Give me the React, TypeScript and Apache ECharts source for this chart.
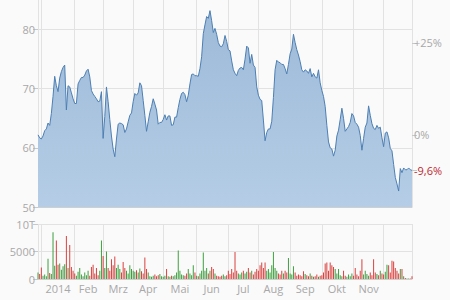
import React, { useEffect, useRef } from "react";
import * as echarts from "echarts";

// month labels (index 0 = late Dec 2013, last = Dec 2014, both unlabeled)
const monthLabels = ["", "2014", "Feb", "Mrz", "Apr", "Mai", "Jun", "Jul", "Aug", "Sep", "Okt", "Nov", ""];

// closing prices per month
const priceDec13 = [62.2, 61.7];
const priceJan = [61.5, 62.0, 62.9, 63.2, 64.2, 63.8, 65.8, 68.7, 72.1, 70.5, 69.5, 71.8, 72.9, 73.6, 74.0, 66.4, 70.5, 70.3, 69.3, 68.3];
const priceFeb = [67.5, 67.5, 70.8, 71.4, 71.9, 71.9, 72.3, 73.0, 73.3, 72.0, 69.7, 69.1, 68.7, 68.3, 67.8, 67.9, 69.5];
const priceMar = [61.6, 65.3, 70.3, 67.8, 64.8, 62.0, 59.8, 58.5, 61.5, 64.0, 64.2, 64.1, 63.9, 62.6, 63.2, 64.4, 65.5, 65.9];
const priceApr = [67.8, 69.2, 68.9, 69.3, 71.0, 70.5, 68.0, 65.5, 62.8, 64.4, 66.0, 67.0, 68.3, 67.4, 66.4, 64.0, 64.3, 64.3];
const priceMay = [64.8, 65.6, 64.7, 65.4, 65.4, 63.8, 63.9, 65.2, 65.2, 66.8, 68.2, 69.2, 69.4, 69.0, 67.8, 68.9, 70.8, 72.4, 72.5, 72.2];
const priceJun = [72.2, 72.1, 73.4, 75.4, 79.3, 80.8, 82.2, 81.9, 83.2, 81.5, 79.5, 80.2, 79.2, 77.8, 77.2, 77.1, 77.6, 79.0, 78.0];
const priceJul = [76.6, 76.4, 74.7, 73.2, 72.6, 72.2, 73.1, 73.5, 73.6, 73.2, 75.0, 77.2, 76.9, 74.3, 75.8, 74.0, 73.6, 70.3];
const priceAug = [68.9, 68.2, 68.0, 64.7, 61.2, 62.6, 63.2, 63.2, 64.5, 68.5, 73.2, 74.8, 74.5, 74.4, 74.1, 74.1, 73.4, 72.5, 74.1];
const priceSep = [75.9, 76.7, 79.2, 77.8, 76.6, 75.7, 74.6, 73.2, 72.8, 73.2, 73.0, 72.6, 73.4, 72.0, 72.6, 72.0, 71.8, 73.2, 71.0];
const priceOct = [69.7, 68.7, 67.0, 63.8, 61.0, 60.0, 59.8, 58.6, 59.6, 62.0, 63.0, 64.8, 66.7, 65.0, 62.8, 63.2, 63.6, 64.3, 65.8];
const priceNov = [65.4, 64.3, 64.0, 63.5, 62.1, 59.6, 61.6, 63.5, 64.2, 67.1, 65.5, 64.1, 63.3, 63.1, 63.8, 63.3, 63.5, 61.7];
const priceDec = [60.2, 62.5, 62.7, 61.7, 59.9, 59.5, 57.2, 55.0, 53.9, 52.7, 56.5, 55.8, 56.6, 56.3, 56.3, 56.6, 56.3, 56.2];

// traded volume per month
const volDec13 = [1200, 900];
const volJan = [2100, 600, 800, 500, 3700, 1100, 900, 8500, 2400, 7000, 2600, 2800, 1700, 2300, 2700, 7800, 2000, 6200, 2200, 1500];
const volFeb = [1000, 600, 1300, 2000, 800, 500, 1200, 700, 1500, 600, 2200, 2600, 1000, 2000, 700, 1500, 7000];
const volMar = [4200, 2000, 5000, 2000, 1500, 3600, 2500, 4100, 2000, 2600, 1800, 1200, 3100, 2000, 1500, 1000, 2500, 1800];
const volApr = [1500, 1300, 1600, 1200, 1900, 1400, 1000, 3900, 1800, 1200, 500, 400, 600, 800, 500, 700, 900, 500];
const volMay = [400, 600, 1800, 500, 400, 600, 500, 700, 1200, 5200, 1500, 800, 700, 600, 1000, 1800, 1000, 700, 2500, 1200];
const volJun = [600, 500, 1000, 1500, 4800, 1500, 2000, 1000, 1500, 2200, 1800, 1000, 600, 500, 400, 600, 800, 500, 700];
const volJul = [1500, 900, 1800, 1200, 4900, 1500, 1000, 800, 1200, 1500, 1000, 1300, 2000, 1200, 1500, 800, 1300, 1800];
const volAug = [1500, 2500, 3000, 2000, 3000, 1500, 1800, 1200, 2500, 4900, 2000, 1500, 1000, 800, 1500, 1000, 1500, 1200, 3800];
const volSep = [1000, 800, 2300, 1200, 600, 800, 700, 500, 1400, 900, 700, 500, 1000, 600, 400, 500, 800, 400, 600];
const volOct = [700, 1200, 2800, 3000, 1500, 3000, 2500, 2200, 1800, 1000, 1800, 700, 500, 1500, 600, 400, 800, 500, 1000];
const volNov = [600, 2000, 800, 500, 1500, 3600, 800, 1500, 900, 600, 1200, 700, 3600, 1200, 900, 700, 1500, 1000];
const volDec = [800, 1300, 2600, 2500, 1200, 3300, 3200, 2000, 1500, 1000, 1800, 1800, 500, 200, 100, 100, 100, 500];

const priceByMonth = [priceDec13, priceJan, priceFeb, priceMar, priceApr, priceMay, priceJun, priceJul, priceAug, priceSep, priceOct, priceNov, priceDec];
const volByMonth = [volDec13, volJan, volFeb, volMar, volApr, volMay, volJun, volJul, volAug, volSep, volOct, volNov, volDec];

const priceTicks = [50, 60, 70, 80];
const priceMax = 85;
const volTicks = [0, 5000, 10000];
const pctTicks = [25, 0];

export default function App() {
  const ref = useRef<HTMLDivElement>(null);

  useEffect(() => {
    if (!ref.current) return;
    const chart = echarts.init(ref.current, null, { renderer: "svg" });

    const categories: string[] = [];
    const prices: number[] = [];
    const volumes: number[] = [];
    const monthStart = new Set<number>();
    const labelAt = new Map<number, string>();
    priceByMonth.forEach((arr, m) => {
      const start = categories.length;
      if (m > 0) monthStart.add(start);
      if (monthLabels[m]) labelAt.set(start + Math.floor(arr.length / 2), monthLabels[m]);
      arr.forEach((v, k) => {
        categories.push(`${m}-${k}`);
        prices.push(v);
        volumes.push(volByMonth[m][k]);
      });
    });
    const last = categories.length - 1;
    const base = prices[0];
    const lastPrice = prices[last];

    const splitFn = (idx: number) => idx === 0 || idx === last || monthStart.has(idx);
    const font = "Open Sans";
    const grey = "#a8a8a8";
    const gridColor = "#e2e2e2";

    const volData = volumes.map((v, i) => ({
      value: v,
      itemStyle: { color: i > 0 && prices[i] < prices[i - 1] ? "#d9413f" : "#3f9e3f" },
    }));

    const pctFmt = (v: number) => {
      const p = (v / base - 1) * 100;
      const r = Math.round(p * 10) / 10;
      const s = (Math.abs(r - Math.round(r)) < 1e-6 ? String(Math.round(r)) : r.toFixed(1)).replace(".", ",");
      return (r > 0 ? "+" : "") + s + "%";
    };
    const pctValues = [...pctTicks.map((p) => base * (1 + p / 100)), lastPrice];

    chart.setOption({
      animation: false,
      backgroundColor: "#fafafa",
      textStyle: { fontFamily: font },
      grid: [
        { left: 38, right: 38, top: 0, height: 207 },
        { left: 38, right: 38, top: 224, height: 55 },
      ],
      xAxis: [
        {
          type: "category",
          gridIndex: 0,
          data: categories,
          boundaryGap: false,
          axisLabel: { show: false },
          axisTick: { show: false },
          axisLine: { lineStyle: { color: "#cfcfcf" } },
          splitLine: { show: true, interval: (i: number) => splitFn(i), lineStyle: { color: gridColor } },
        },
        {
          type: "category",
          gridIndex: 1,
          data: categories,
          boundaryGap: false,
          axisTick: { show: false },
          axisLine: { lineStyle: { color: "#cfcfcf" } },
          splitLine: { show: true, interval: (i: number) => splitFn(i), lineStyle: { color: gridColor } },
          axisLabel: {
            interval: (i: number) => labelAt.has(i),
            formatter: (_v: string, i: number) => labelAt.get(i) || "",
            color: grey,
            fontSize: 11,
            fontFamily: font,
            margin: 4,
          },
        },
      ],
      yAxis: [
        {
          type: "value",
          gridIndex: 0,
          min: priceTicks[0],
          max: priceMax,
          interval: 10,
          axisLine: { show: false },
          axisTick: { show: true, length: 5, customValues: priceTicks, lineStyle: { color: "#c8c8c8" } },
          axisLabel: { color: grey, fontSize: 11, fontFamily: font, margin: 3, customValues: priceTicks },
          splitLine: { show: true, lineStyle: { color: gridColor } },
        },
        {
          type: "value",
          gridIndex: 0,
          position: "right",
          min: priceTicks[0],
          max: priceMax,
          axisLine: { show: false },
          splitLine: { show: false },
          axisTick: { show: true, length: 5, customValues: pctValues, lineStyle: { color: "#c8c8c8" } },
          axisLabel: {
            customValues: pctValues,
            margin: 2,
            fontSize: 11,
            fontFamily: font,
            color: grey,
            formatter: (v: number) => (Math.abs(v - lastPrice) < 1e-9 ? `{r|${pctFmt(v)}}` : pctFmt(v)),
            rich: { r: { color: "#c0272d", fontSize: 11, fontFamily: font } },
          },
        },
        {
          type: "value",
          gridIndex: 1,
          min: volTicks[0],
          max: volTicks[2],
          interval: 5000,
          axisLine: { show: false },
          axisTick: { show: true, length: 5, lineStyle: { color: "#c8c8c8" } },
          axisLabel: {
            color: grey,
            fontSize: 11,
            fontFamily: font,
            margin: 3,
            formatter: (v: number) => (v >= 10000 ? `${v / 1000}T` : String(v)),
          },
          splitLine: { show: true, lineStyle: { color: gridColor } },
        },
      ],
      series: [
        {
          type: "line",
          xAxisIndex: 0,
          yAxisIndex: 0,
          data: prices,
          symbol: "none",
          lineStyle: { color: "#4d7fb3", width: 1 },
          areaStyle: {
            color: new echarts.graphic.LinearGradient(0, 0, 0, 1, [
              { offset: 0, color: "#9dbad8" },
              { offset: 1, color: "#b5cde6" },
            ]),
            opacity: 1,
          },
        },
        {
          type: "bar",
          xAxisIndex: 1,
          yAxisIndex: 2,
          data: volData,
          barWidth: 1,
        },
      ],
    });

    return () => chart.dispose();
  }, []);

  return <div ref={ref} style={{ position: "fixed", left: 0, top: 0, width: 450, height: 300 }} />;
}
